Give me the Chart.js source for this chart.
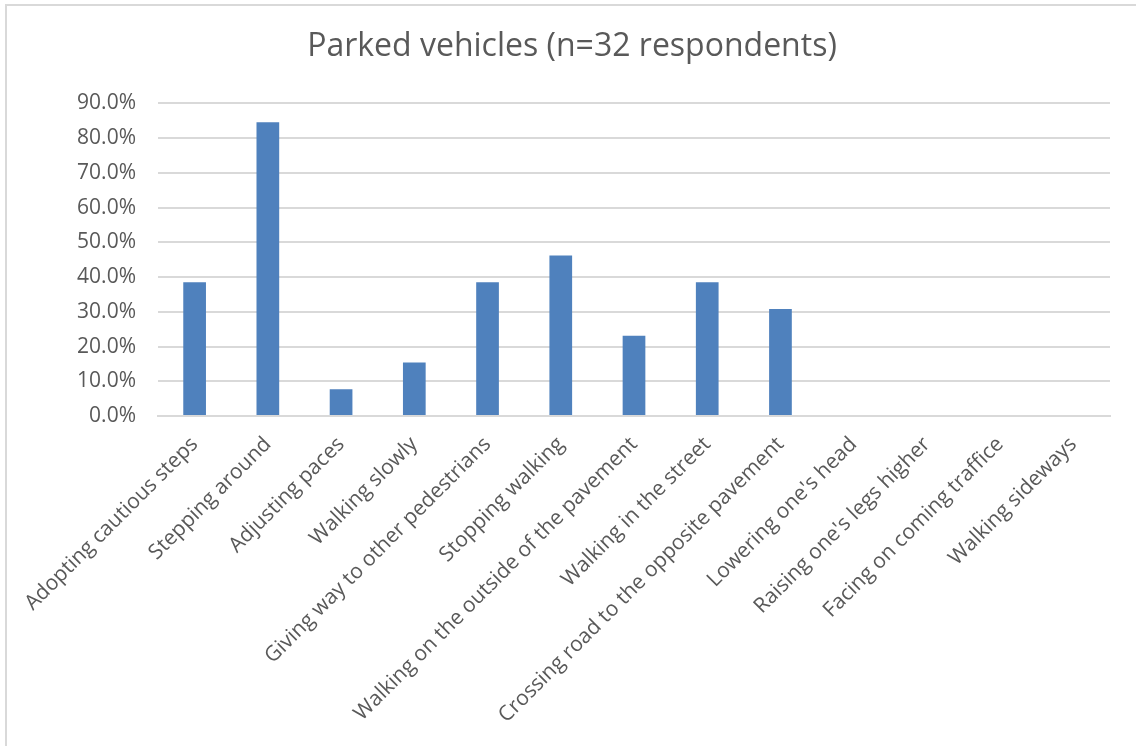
<!DOCTYPE html>
<html>
<head>
<meta charset="utf-8">
<script src="https://cdn.jsdelivr.net/npm/chart.js@4/dist/chart.umd.min.js"></script>
<style>
  html, body { margin: 0; padding: 0; background: #ffffff; }
  #wrap { position: relative; width: 1136px; height: 746px; overflow: hidden; }
  #frame { position: absolute; left: 5px; top: 4px; width: 1200px; height: 800px;
           border-left: 2px solid #d9d9d9; border-top: 2px solid #d9d9d9; box-sizing: border-box; }
  canvas { position: absolute; left: 0; top: 0; }
</style>
</head>
<body>
<div id="wrap">
  <div id="frame"></div>
  <canvas id="chart" width="1136" height="746"></canvas>
</div>
<script>
// Responses to parked vehicles, share of respondents (%)
const categories = [
  "Adopting cautious steps",
  "Stepping around",
  "Adjusting paces",
  "Walking slowly",
  "Giving way to other pedestrians",
  "Stopping walking",
  "Walking on the outside of the pavement",
  "Walking in the street",
  "Crossing road to the opposite pavement",
  "Lowering one's head",
  "Raising one's legs higher",
  "Facing on coming traffice",
  "Walking sideways"
];
const shares = [38.5, 84.6, 7.7, 15.4, 38.5, 46.2, 23.1, 38.5, 30.8, 0, 0, 0, 0];
const yTicks = [0, 10, 20, 30, 40, 50, 60, 70, 80, 90];
const titleText = "Parked vehicles (n=32 respondents)";

const textColor = "#595959";
const fontFamily = "'Open Sans', 'Liberation Sans', sans-serif";

new Chart(document.getElementById("chart"), {
  type: "bar",
  data: {
    labels: categories,
    datasets: [{
      data: shares,
      backgroundColor: "#4f81bd",
      borderWidth: 0,
      barPercentage: 0.62,
      categoryPercentage: 0.5
    }]
  },
  options: {
    responsive: false,
    animation: false,
    devicePixelRatio: 1,
    layout: { padding: { left: 34, right: 26, top: 18, bottom: 0 } },
    plugins: {
      legend: { display: false },
      tooltip: { enabled: false },
      title: {
        display: true,
        text: titleText,
        color: textColor,
        font: { family: fontFamily, size: 32, weight: "normal" },
        padding: { top: 10, bottom: 37 }
      }
    },
    scales: {
      x: {
        grid: { display: false, drawTicks: false },
        border: { display: true, color: "#d9d9d9", width: 2 },
        ticks: {
          color: textColor,
          font: { family: fontFamily, size: 21 },
          minRotation: 45,
          maxRotation: 45,
          autoSkip: false,
          padding: 16
        },
        afterFit(scale) { scale.height = 330; }
      },
      y: {
        min: 0,
        max: 90,
        afterBuildTicks(scale) { scale.ticks = yTicks.map(v => ({ value: v })); },
        grid: { color: "#d9d9d9", lineWidth: 2, drawTicks: false },
        border: { display: false },
        ticks: {
          color: textColor,
          font: { family: fontFamily, size: 21 },
          padding: 22,
          callback: v => v.toFixed(1) + "%"
        },
        afterFit(scale) { scale.width = 124; }
      }
    }
  }
});
</script>
</body>
</html>
